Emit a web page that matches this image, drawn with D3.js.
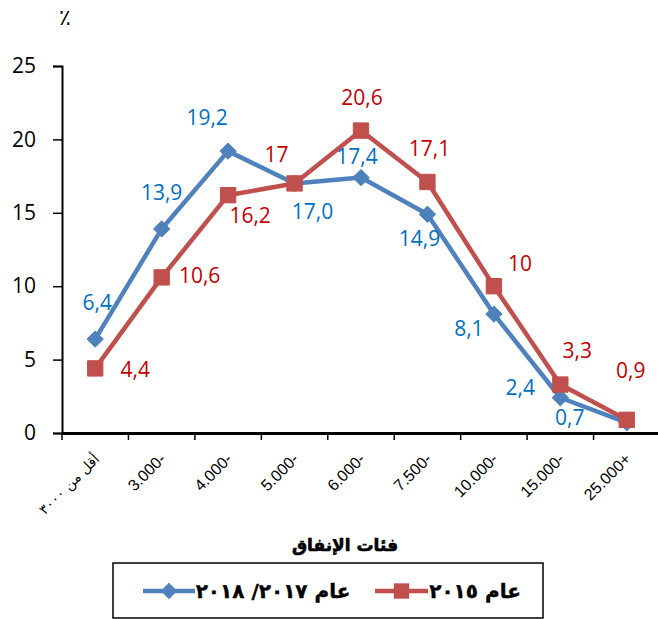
<!DOCTYPE html>
<html>
<head>
<meta charset="utf-8">
<script src="https://cdn.jsdelivr.net/npm/d3@7"></script>
<style>
  html, body { margin: 0; padding: 0; background: #fff; }
  svg { display: block; }
</style>
</head>
<body>
<div id="chart"></div>
<script>
// فئات الإنفاق — two survey rounds, % of households per spending class
const categories = ['أقل من ٣٠٠٠', '3.000-', '4.000-', '5.000-', '6.000-', '7.500-', '10.000-', '15.000-', '25.000+'];
const values2017 = [6.4, 13.9, 19.2, 17.0, 17.4, 14.9, 8.1, 2.4, 0.7];
const values2015 = [4.4, 10.6, 16.2, 17, 20.6, 17.1, 10, 3.3, 0.9];
const labels2017 = ['6,4', '13,9', '19,2', '17,0', '17,4', '14,9', '8,1', '2,4', '0,7'];
const labels2015 = ['4,4', '10,6', '16,2', '17', '20,6', '17,1', '10', '3,3', '0,9'];
const yTicks = [0, 5, 10, 15, 20, 25];

// label nudges (manually placed in the original)
const nudge2017 = [[2, -37], [0, -37], [-21, -34], [18, 28], [-4, -22], [-8, 24], [-25, 14], [-40, -11], [-57, -6]];
const nudge2015 = [[40, 1], [38, -2], [22, 20], [-18, -29], [1, -34], [2, -34], [26, -23], [17, -35], [4, -50]];

const W = 658, H = 619;
const BLUE = '#4f81bd', RED = '#c0504d';
const BLUE_TXT = '#0070c0', RED_TXT = '#c00000';
const NUM_FONT = "'Open Sans', 'Liberation Sans', sans-serif";
const TICK_FONT = "'Liberation Sans', Arial, sans-serif";
const AR_FONT = "'DejaVu Sans', sans-serif";

const svg = d3.select('#chart').append('svg')
  .attr('width', W).attr('height', H);

const x = d3.scaleBand().domain(categories).range([62, 660]);
const y = d3.scaleLinear().domain([0, 25]).range([433, 66]);
const cx = c => x(c) + x.bandwidth() / 2;

// y axis
const yAxis = svg.append('g')
  .attr('transform', 'translate(62,0)')
  .call(d3.axisLeft(y).tickValues(yTicks).tickSize(9).tickPadding(17));
yAxis.select('.domain').attr('stroke', '#000').attr('stroke-width', 2);
yAxis.selectAll('.tick line').attr('stroke', '#000').attr('stroke-width', 1.5);
yAxis.selectAll('.tick text')
  .attr('font-family', NUM_FONT).attr('font-size', 21).attr('fill', '#000');

// x axis
const xAxis = svg.append('g')
  .attr('transform', 'translate(0,433)')
  .call(d3.axisBottom(x).tickSize(0).tickFormat(''));
xAxis.select('.domain').attr('stroke', '#000').attr('stroke-width', 3);

// category boundary ticks
svg.append('g').selectAll('line')
  .data(categories)
  .join('line')
  .attr('x1', d => x(d)).attr('x2', d => x(d))
  .attr('y1', 433).attr('y2', 440)
  .attr('stroke', '#000').attr('stroke-width', 1.5);

// rotated category labels
svg.append('g').selectAll('text')
  .data(categories)
  .join('text')
  .attr('transform', d => `translate(${cx(d) + 5},${460}) rotate(-45)`)
  .attr('text-anchor', 'end')
  .attr('font-family', (d, i) => i === 0 ? AR_FONT : TICK_FONT)
  .attr('font-size', (d, i) => i === 0 ? 14 : 16)
  .attr('fill', '#000')
  .text(d => d);

// percent sign
svg.append('text')
  .attr('x', 65).attr('y', 25)
  .attr('text-anchor', 'middle')
  .attr('font-family', AR_FONT).attr('font-size', 22)
  .text('٪');

const line = d3.line().x((d, i) => cx(categories[i])).y(d => y(d));

function drawSeries(vals, color, marker) {
  svg.append('path')
    .datum(vals)
    .attr('d', line)
    .attr('fill', 'none')
    .attr('stroke', color)
    .attr('stroke-width', 4.5)
    .attr('stroke-linejoin', 'round');
  svg.append('g').selectAll('path')
    .data(vals)
    .join('path')
    .attr('transform', (d, i) => `translate(${cx(categories[i])},${y(d)})`)
    .attr('d', d3.symbol().type(marker === 'diamond' ? d3.symbolDiamond2 : d3.symbolSquare2).size(marker === 'diamond' ? 170 : 300)())
    .attr('fill', color)
    .attr('stroke', color)
    .attr('stroke-width', 1);
}

drawSeries(values2017, BLUE, 'diamond');
drawSeries(values2015, RED, 'square');

function drawLabels(vals, labels, nudge, color) {
  svg.append('g').selectAll('text')
    .data(vals)
    .join('text')
    .attr('x', (d, i) => cx(categories[i]) + nudge[i][0])
    .attr('y', (d, i) => y(d) + nudge[i][1])
    .attr('text-anchor', 'middle')
    .attr('dominant-baseline', 'central')
    .attr('font-family', NUM_FONT)
    .attr('font-size', 21)
    .attr('fill', color)
    .text((d, i) => labels[i]);
}

drawLabels(values2017, labels2017, nudge2017, BLUE_TXT);
drawLabels(values2015, labels2015, nudge2015, RED_TXT);

// axis title
svg.append('text')
  .attr('x', 345).attr('y', 545)
  .attr('text-anchor', 'middle')
  .attr('dominant-baseline', 'central')
  .attr('direction', 'rtl')
  .attr('font-family', AR_FONT).attr('font-weight', 'bold').attr('font-size', 17)
  .attr('stroke', '#000').attr('stroke-width', 0.6)
  .text('فئات الإنفاق');

// legend
const lg = svg.append('g');
lg.append('rect')
  .attr('x', 113).attr('y', 563).attr('width', 430).attr('height', 55)
  .attr('fill', '#fff').attr('stroke', '#000').attr('stroke-width', 1.5);

const legendItems = [
  { text: 'عام ٢٠١٥', color: RED, marker: d3.symbolSquare2, size: 300, x0: 375, x1: 428, tx: 475 },
  { text: 'عام ٢٠١٧/ ٢٠١٨', color: BLUE, marker: d3.symbolDiamond2, size: 170, x0: 143, x1: 195, tx: 273 }
];
legendItems.forEach(it => {
  lg.append('line')
    .attr('x1', it.x0).attr('x2', it.x1).attr('y1', 591).attr('y2', 591)
    .attr('stroke', it.color).attr('stroke-width', 4.5);
  lg.append('path')
    .attr('transform', `translate(${(it.x0 + it.x1) / 2},591)`)
    .attr('d', d3.symbol().type(it.marker).size(it.size)())
    .attr('fill', it.color);
  lg.append('text')
    .attr('x', it.tx).attr('y', 591)
    .attr('text-anchor', 'middle')
    .attr('dominant-baseline', 'central')
    .attr('direction', 'rtl')
    .attr('font-family', AR_FONT).attr('font-weight', 'bold').attr('font-size', 20)
    .attr('stroke', '#000').attr('stroke-width', 0.4)
    .text(it.text);
});
</script>
</body>
</html>
